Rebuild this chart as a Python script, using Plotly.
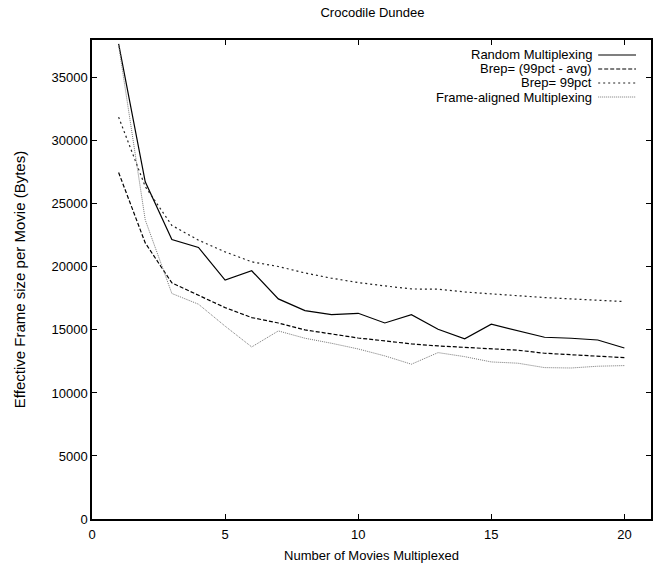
import plotly.graph_objects as go

movies = list(range(1, 21))
random_mux = [37700, 26750, 22170, 21540, 18950, 19690, 17460, 16530, 16210, 16320,
              15550, 16210, 15050, 14290, 15450, 14920, 14420, 14340, 14200, 13570]
brep_diff = [27490, 21900, 18730, 17750, 16770, 15980, 15550, 15000, 14680, 14360,
             14130, 13890, 13730, 13630, 13520, 13390, 13150, 13040, 12940, 12800]
brep_99 = [31880, 26370, 23290, 22120, 21190, 20400, 20030, 19520, 19100, 18760,
           18490, 18250, 18230, 18010, 17860, 17700, 17570, 17460, 17350, 17250]
frame_aligned = [37600, 23730, 17890, 17040, 15300, 13650, 14920, 14340, 13940, 13490,
                 12940, 12280, 13200, 12880, 12460, 12360, 12010, 11980, 12120, 12170]

names = ["Random Multiplexing", "Brep= (99pct - avg)", "Brep= 99pct", "Frame-aligned Multiplexing"]
series = [random_mux, brep_diff, brep_99, frame_aligned]
styles = [
    dict(color="black", width=1.2, dash="solid"),
    dict(color="black", width=1.2, dash="4px,2px"),
    dict(color="#222", width=1.2, dash="2px,3px"),
    dict(color="#777", width=1.0, dash="1px,1px"),
]

L, R, T, B = 92, 653, 40, 519

fig = go.Figure()
for n, s, st in zip(names, series, styles):
    fig.add_trace(go.Scatter(x=movies, y=s, mode="lines", name=n, line=st, showlegend=False))

fam = "Liberation Sans, Arial, sans-serif"
font = dict(family=fam, size=13, color="black")

# Legend built gnuplot-style: right-aligned text with sample on the right
ys = [55, 69, 83, 97]
for n, st, yy in zip(names, styles, ys):
    yp = 1 - (yy - T) / (B - T)
    fig.add_annotation(xref="paper", yref="paper", x=(596 - L) / (R - L), y=yp,
                       text=n, showarrow=False, xanchor="right", yanchor="middle",
                       font=font)
    fig.add_shape(type="line", xref="paper", yref="paper",
                  x0=(600 - L) / (R - L), x1=(638 - L) / (R - L), y0=yp, y1=yp,
                  line=st)

axis_common = dict(showline=True, linecolor="black", linewidth=1.5, mirror="allticks",
                   ticks="inside", ticklen=5, tickcolor="black", showgrid=False,
                   zeroline=False, tickfont=font, tickformat="d")

fig.update_layout(
    width=656, height=567,
    margin=dict(l=L, r=656 - R, t=T, b=567 - B),
    paper_bgcolor="white", plot_bgcolor="white",
    title=dict(text="Crocodile Dundee", x=(L + R) / 2 / 656, xanchor="center",
               y=1 - 12 / 567, yanchor="middle", font=dict(family=fam, size=13, color="black")),
    xaxis=dict(range=[0, 21], tickvals=[0, 5, 10, 15, 20], ticklabelstandoff=3,
               title=dict(text="Number of Movies Multiplexed", font=font, standoff=10), **axis_common),
    yaxis=dict(range=[0, 38000], tickvals=list(range(0, 38000, 5000)),
               title=dict(text="Effective Frame size per Movie (Bytes)",
                          font=dict(family=fam, size=15, color="black"), standoff=22),
               **axis_common),
)

fig.write_html("out.html", config={"displayModeBar": False},
               post_script="document.body.style.margin='0';document.body.style.overflow='hidden';")
